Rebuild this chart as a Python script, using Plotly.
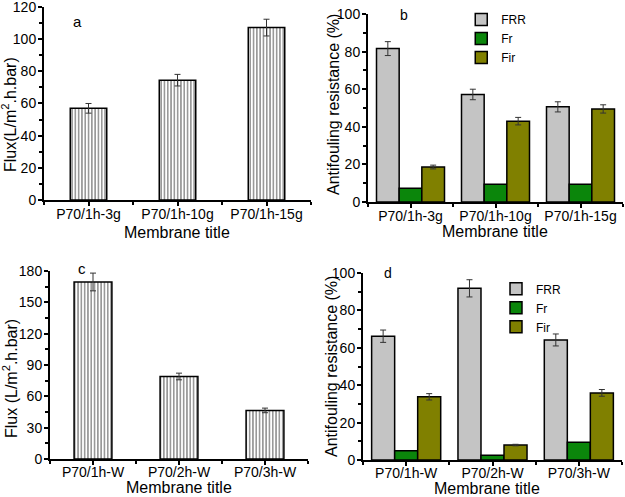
import plotly.graph_objects as go

# ---- data ----
cats_a = ["P70/1h-3g", "P70/1h-10g", "P70/1h-15g"]
flux_a = [57.0, 74.5, 107.2]
flux_a_err = [3.0, 3.6, 5.2]

cats_b = ["P70/1h-3g", "P70/1h-10g", "P70/1h-15g"]
frr_b = [81.6, 57.2, 50.6]
frr_b_err = [3.7, 2.8, 2.7]
fr_b = [7.3, 9.5, 9.4]
fir_b = [18.6, 43.0, 49.5]
fir_b_err = [1.0, 2.0, 2.2]

cats_c = ["P70/1h-W", "P70/2h-W", "P70/3h-W"]
flux_c = [169.5, 79.0, 46.5]
flux_c_err = [8.5, 3.2, 2.2]

cats_d = ["P70/1h-W", "P70/2h-W", "P70/3h-W"]
frr_d = [66.2, 91.8, 64.2]
frr_d_err = [3.3, 4.6, 3.2]
fr_d = [5.0, 2.5, 9.5]
fir_d = [33.8, 8.0, 35.9]
fir_d_err = [1.7, 0.4, 1.8]

flux_title_a = "Flux(L/m<sup>2</sup>.h.bar)"
flux_title_c = "Flux (L/m<sup>2</sup>.h.bar)"
anti_title = "Antifouling resistance (%)"
x_title = "Membrane title"

FONT = "Liberation Sans, Arial, sans-serif"
GRAY = "#c4c4c4"
GREEN = "#0b860b"
OLIVE = "#808000"

fig = go.Figure()

def xpos(cats):
    return list(range(len(cats)))

def flux_trace(cats, vals, errs, xa, ya, width):
    return go.Bar(
        x=xpos(cats), y=vals, xaxis=xa, yaxis=ya, width=width, showlegend=False,
        marker=dict(color="white",
                    pattern=dict(shape="|", fgcolor="black", bgcolor="white", size=3.3, solidity=0.4),
                    line=dict(color="black", width=1.5)),
        error_y=dict(type="data", array=errs, color="#333333", thickness=1, width=3),
    )

fig.add_trace(flux_trace(cats_a, flux_a, flux_a_err, "x", "y", 0.41))
fig.add_trace(flux_trace(cats_c, flux_c, flux_c_err, "x3", "y3", 0.44))

def anti_traces(cats, frr, frr_err, fr, fir, fir_err, xa, ya, leg):
    out = []
    specs = [("FRR", frr, frr_err, GRAY), ("Fr", fr, None, GREEN), ("Fir", fir, fir_err, OLIVE)]
    for name, vals, errs, col in specs:
        kw = {}
        if errs is not None:
            kw["error_y"] = dict(type="data", array=errs, color="#333333", thickness=1, width=3)
        out.append(go.Bar(
            x=xpos(cats), y=vals, name=name, xaxis=xa, yaxis=ya, legend=leg,
            marker=dict(color=col, line=dict(color="black", width=1.5)), **kw))
    return out

for t in anti_traces(cats_b, frr_b, frr_b_err, fr_b, fir_b, fir_b_err, "x2", "y2", "legend"):
    fig.add_trace(t)
for t in anti_traces(cats_d, frr_d, frr_d_err, fr_d, fir_d, fir_d_err, "x4", "y4", "legend2"):
    fig.add_trace(t)

tickfont = dict(family=FONT, size=14, color="black")
titlefont = dict(family=FONT, size=16, color="black")

def xaxis(cats, domain, anchor, standoff=-4):
    return dict(domain=domain, anchor=anchor, range=[-0.5, len(cats) - 0.5], automargin=False,
                tickmode="array", tickvals=xpos(cats), ticktext=cats,
                showline=True, linecolor="black", linewidth=2, mirror=False,
                ticks="outside", ticklen=4, tickwidth=1.5, tickcolor="black", ticklabelstandoff=standoff,
                minor=dict(ticks="outside", tick0=0.5, dtick=1, ticklen=3, tickwidth=1.5, tickcolor="black"),
                showgrid=False, zeroline=False, tickfont=tickfont)

def yaxis(domain, anchor, rng, dtick):
    return dict(domain=domain, anchor=anchor, range=rng, dtick=dtick, tick0=0, automargin=False,
                showline=True, linecolor="black", linewidth=2, ticklabeloverflow="allow",
                ticks="outside", ticklen=4, tickwidth=1.5, tickcolor="black", ticklabelstandoff=-1,
                minor=dict(ticks="outside", dtick=dtick / 2, ticklen=3, tickwidth=1.5, tickcolor="black"),
                showgrid=False, zeroline=False, tickfont=tickfont)

def label(text, x, y, xref, yref, size=15):
    return dict(text=text, x=x, y=y, xref=xref, yref=yref, showarrow=False,
                font=dict(family=FONT, size=size, color="black"))

def title_ann(text, x, y, angle=0, height=None):
    d = dict(text=text, x=x, y=y, xref="paper", yref="paper", showarrow=False,
             xanchor="center", yanchor="middle", textangle=angle, font=titlefont)
    if height is not None:
        d["height"] = height
    return d

fig.update_layout(
    width=625, height=497,
    margin=dict(l=0, r=0, t=0, b=0, autoexpand=False),
    paper_bgcolor="white", plot_bgcolor="white",
    barmode="group", bargap=0.2, bargroupgap=0,
    font=dict(family=FONT, color="black"),
    xaxis=xaxis(cats_a, [0.0704, 0.4976], "y"),
    yaxis=yaxis([0.5976, 0.9859], "x", [0, 120], 20),
    xaxis2=xaxis(cats_b, [0.5888, 0.9968], "y2"),
    yaxis2=yaxis([0.5936, 0.9718], "x2", [0, 100], 20),
    xaxis3=xaxis(cats_c, [0.080, 0.4928], "y3", -5),
    yaxis3=yaxis([0.0765, 0.4547], "x3", [0, 180], 30),
    xaxis4=xaxis(cats_d, [0.5808, 0.9952], "y4", -5),
    yaxis4=yaxis([0.0744, 0.4507], "x4", [0, 100], 20),
    legend=dict(x=0.738, y=0.99, xanchor="left", yanchor="top", bgcolor="rgba(0,0,0,0)",
                font=dict(family=FONT, size=12, color="black"), tracegroupgap=0, itemwidth=30),
    legend2=dict(x=0.7936, y=0.448, xanchor="left", yanchor="top", bgcolor="rgba(0,0,0,0)",
                 font=dict(family=FONT, size=12, color="black"), tracegroupgap=0, itemwidth=30),
    annotations=[
        label("a", 0.1015, 0.979, "x domain", "y domain", 15),
        label("b", 0.117, 1.048, "x2 domain", "y2 domain", 14),
        label("c", 0.101, 1.069, "x3 domain", "y3 domain", 15),
        label("d", 0.074, 1.053, "x4 domain", "y4 domain", 14),
        title_ann(flux_title_a, 0.0144, 1 - 115 / 497, -90),
        title_ann(anti_title, 0.5328, 0.7887, -90),
        title_ann(flux_title_c, 0.016, 0.2374, -90),
        title_ann(anti_title, 0.5312, 0.2616, -90),
        title_ann(x_title, 0.2840, 1 - 232 / 497, 0, 16),
        title_ann(x_title, 0.7920, 1 - 231 / 497, 0, 16),
        title_ann(x_title, 0.2864, 1 - 487 / 497, 0, 16),
        title_ann(x_title, 0.7792, 1 - 488 / 497, 0, 16),
    ],
)

fig.write_html("out.html", config={"displayModeBar": False},
               post_script="document.body.style.margin='0px';")
